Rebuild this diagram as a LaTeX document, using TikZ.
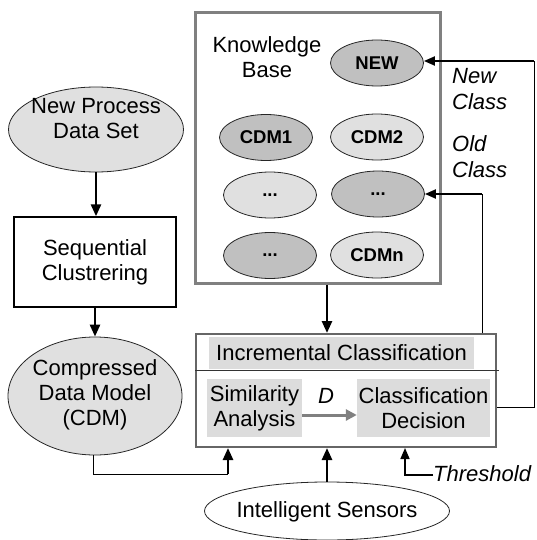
\documentclass[tikz,border=0pt]{standalone}
\usepackage{fontspec}
\setmainfont{Liberation Sans}
\usetikzlibrary{shapes.geometric,arrows.meta,calc}
\definecolor{lightfill}{HTML}{E0E0E0}
\definecolor{darkfill}{HTML}{C0C0C0}
\definecolor{kbborder}{HTML}{808080}
\definecolor{incborder}{HTML}{666666}
\definecolor{panelfill}{HTML}{DCDCDC}
\begin{document}
\begin{tikzpicture}[x=1pt,y=-1pt,
  txt/.style={font=\fontsize{22}{25}\selectfont, align=center, inner sep=0},
  itxt/.style={font=\fontsize{22}{26}\selectfont\itshape, align=left, inner sep=0},
  bigell/.style={ellipse, draw=black!85, line width=0.8pt, inner sep=0},
  kbell/.style={ellipse, draw=black!85, line width=0.8pt, inner sep=0, minimum width=93, minimum height=46, font=\fontsize{18.5}{20}\selectfont\bfseries},
  darkell/.style={kbell, fill=darkfill},
  lightell/.style={kbell, fill=lightfill},
  panel/.style={rectangle, fill=panelfill, inner sep=0, align=center, font=\fontsize{22}{25}\selectfont},
  thickarrow/.style={line width=2.6pt, -{Triangle[length=12pt,width=10pt]}},
  thinline/.style={line width=1pt}
]
\useasboundingbox (0,0) rectangle (536,540);

% Left column
\node[bigell, fill=lightfill, minimum width=175, minimum height=85] (nps) at (96,129.5) {};
\node[txt] (npst) at (96,118.5) {New Process\\Data Set};
\node[rectangle, draw=black, line width=1.4pt, minimum width=162, minimum height=90, txt] (seq) at (95,262) {Sequential\\Clustrering};
\node[bigell, fill=lightfill, minimum width=174, minimum height=118] (cdm) at (95,396) {};
\node[txt] (cdmt) at (95,395) {Compressed\\Data Model\\(CDM)};

% Knowledge base
\node[rectangle, draw=kbborder, line width=3pt, minimum width=245, minimum height=270, inner sep=0] (kb) at (317.5,148) {};
\node[txt] (kbt) at (267,57) {Knowledge\\Base};
\node[darkell] (new) at (377,63) {NEW};
\node[darkell] (cdm1) at (266,137.5) {CDM1};
\node[lightell] (cdm2) at (377,137) {CDM2};
\node[lightell] (d3a) at (270,195) {...};
\node[darkell] (d3b) at (378,194) {...};
\node[darkell] (d4a) at (270,255.5) {...};
\node[lightell] (cdmn) at (377,255) {CDMn};

% Incremental classification
\node[rectangle, draw=incborder, line width=2pt, minimum width=300, minimum height=113, inner sep=0] (inc) at (346,390.5) {};
\node[panel, minimum width=265, minimum height=32] (head) at (341.5,353) {Incremental Classification};
\draw[line width=0.8pt, black!80] (inc.west |- 0,370) coordinate (sepl) -- (499,370) coordinate (sepr);
\node[panel, minimum width=95, minimum height=58] (sim) at (254.5,408) {Similarity\\Analysis};
\node[panel, minimum width=133, minimum height=58] (dec) at (423.5,408) {Classification\\Decision};
\draw[line width=3pt, kbborder, -{Triangle[length=11pt,width=11pt]}] (sim.east |- 0,415) -- (dec.west |- 0,415);
\node[itxt] (dlab) at (326,396) {D};

% Sensors
\node[bigell, fill=white, minimum width=245, minimum height=58] (sens) at (327,511) {};
\node[txt] (senst) at (327,512) {Intelligent Sensors};

% Threshold
\node[itxt, anchor=west] (thr) at (433,474) {Threshold};

% Labels
\node[itxt, anchor=north west] (newcl) at (452,68) {New\\Class};
\node[itxt, anchor=north west] (oldcl) at (452,135) {Old\\Class};

% Connectors
\draw[thickarrow] (nps.south) -- (seq.north -| nps.south);
\draw[thickarrow] (seq.south -| cdm.north) -- (cdm.north);
\draw[thickarrow] (kb.south -| sens.north) -- (inc.north -| sens.north);
\draw[thickarrow] (sens.north) -- (inc.south -| sens.north);
\coordinate (cdmc) at (228,474);
\draw[thinline] (cdm.south -| 93,0) |- (cdmc);
\draw[thickarrow] (cdmc) -- (inc.south -| cdmc);
\coordinate (thc) at (405,475);
\draw[line width=1.6pt, -{Triangle[length=11pt,width=9pt]}] (thr.west |- thc) -- (thc) -- (inc.south -| thc);

% New class feedback
\coordinate (nc1) at (534,407);
\coordinate (nc2) at (534,61);
\draw[thinline] (inc.east |- nc1) -- (nc1) -- (nc2);
\draw[line width=2pt, -{Triangle[length=11pt,width=9pt]}] (nc2) -- (new.east |- nc2);
% Old class feedback
\coordinate (oc1) at (482,194);
\draw[thinline] (inc.north -| oc1) -- (oc1);
\draw[line width=2pt, -{Triangle[length=11pt,width=9pt]}] (oc1) -- (d3b.east |- oc1);
\end{tikzpicture}
\end{document}
